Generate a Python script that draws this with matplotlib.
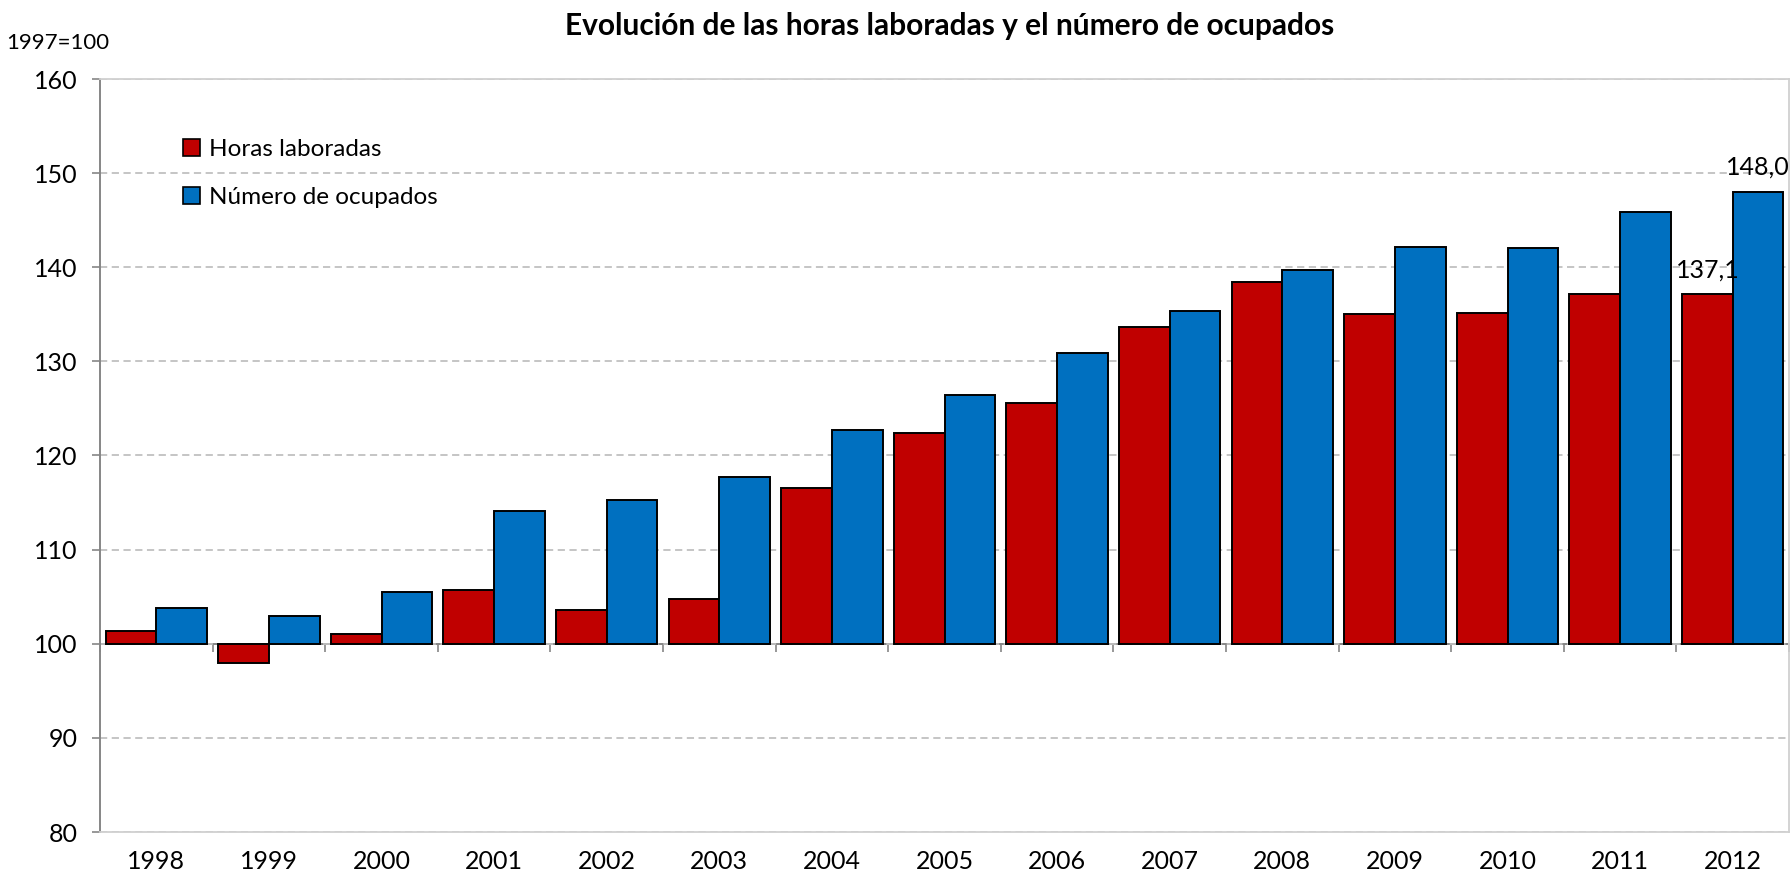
import matplotlib
matplotlib.use("Agg")
import matplotlib.pyplot as plt
from matplotlib.patches import Patch
import numpy as np

plt.rcParams['font.family'] = ['Lato', 'DejaVu Sans']

years = ["1998", "1999", "2000", "2001", "2002", "2003", "2004", "2005",
         "2006", "2007", "2008", "2009", "2010", "2011", "2012"]
horas = [101.3, 97.9, 101.0, 105.7, 103.6, 104.7, 116.5, 122.4,
         125.6, 133.6, 138.4, 135.0, 135.1, 137.2, 137.1]
ocupados = [103.8, 102.9, 105.5, 114.1, 115.3, 117.7, 122.7, 126.4,
            130.9, 135.3, 139.7, 142.1, 142.0, 145.9, 148.0]
labels_series = ["Horas laboradas", "Número de ocupados"]
title = "Evolución de las horas laboradas y el número de ocupados"
base_label = "1997=100"
yticks = [80, 90, 100, 110, 120, 130, 140, 150, 160]

RED = "#C00000"
BLUE = "#0070C0"
GRAY = "#868686"
LIGHT = "#D0D0D0"

fig = plt.figure(figsize=(17.91, 8.781), dpi=100)
ax = fig.add_axes([100/1791, 46/878, (1789-100)/1791, (832-79)/878])

x = np.arange(len(years))
w = 0.45
base = 100
ax.bar(x - w/2, np.array(horas) - base, w, bottom=base, color=RED,
       edgecolor="black", linewidth=1.4, zorder=3)
ax.bar(x + w/2, np.array(ocupados) - base, w, bottom=base, color=BLUE,
       edgecolor="black", linewidth=1.4, zorder=3)

ax.set_xlim(-0.5, len(years) - 0.5)
ax.set_ylim(80, 160)
ax.set_yticks(yticks)
ax.set_yticklabels([str(t) for t in yticks], fontsize=18)
ax.set_xticks(x)
ax.set_xticklabels(years, fontsize=18)
ax.tick_params(axis='x', length=0, pad=13)
ax.tick_params(axis='y', length=6, width=1.2, color=GRAY, pad=10)

ax.yaxis.grid(True, color="#C0C0C0", linestyle=(0, (4, 2.5)), linewidth=1.3)
ax.set_axisbelow(True)

for s in ["top", "right", "bottom"]:
    ax.spines[s].set_color(LIGHT)
    ax.spines[s].set_linewidth(1.3)
ax.spines["left"].set_color(GRAY)
ax.spines["left"].set_linewidth(1.4)

# category axis crossing at 100
sec = ax.secondary_xaxis((base - 80) / (160 - 80))
sec.set_xticks(np.arange(len(years) + 1) - 0.5)
sec.tick_params(axis='x', labelbottom=False, labeltop=False, length=6,
                width=1.2, color=GRAY, direction='out')
for s in sec.spines.values():
    s.set_color(GRAY)
    s.set_linewidth(1.4)

# data labels for last year
last = len(years) - 1
for xv, v in [(last - w/2, horas[last]), (last + w/2, ocupados[last])]:
    ax.annotate(f"{v:.1f}".replace(".", ","), xy=(xv, v), xytext=(0, 18),
                textcoords="offset points", ha="center", va="center",
                fontsize=18, zorder=5, annotation_clip=False)

handles = [Patch(facecolor=RED, edgecolor="black", linewidth=1.2),
           Patch(facecolor=BLUE, edgecolor="black", linewidth=1.2)]
ax.legend(handles, labels_series, loc="upper left",
          bbox_to_anchor=(183/1791, 1 - 139/878), bbox_transform=fig.transFigure,
          frameon=False, fontsize=17.5, handlelength=0.7, handleheight=0.7,
          handletextpad=0.35, labelspacing=1.12, borderaxespad=0, borderpad=0)

fig.text(950/1791, 1 - 26/878, title, ha="center", va="center",
         fontsize=21.5, fontweight="bold")
fig.text(58/1791, 1 - 43/878, base_label, ha="center", va="center", fontsize=16)

fig.savefig("out.png", dpi=100)
